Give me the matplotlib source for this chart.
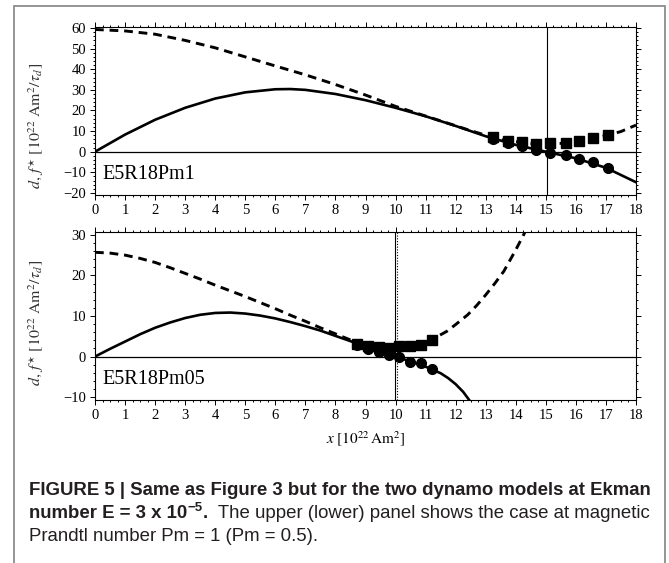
import matplotlib
matplotlib.use("Agg")
import matplotlib.pyplot as plt
from matplotlib.patches import Rectangle
from matplotlib.transforms import IdentityTransform
from matplotlib.ticker import MultipleLocator

# ---- upper panel (E5R18Pm1) ----
x_d1 = [0, 1, 2, 3, 4, 5, 6, 6.5, 7, 8, 9, 10, 11, 12, 13, 14, 15, 16, 17, 18]
d1 = [0, 8.3, 15.5, 21.3, 25.8, 28.8, 30.3, 30.4, 30.0, 28.0, 25.0, 21.3, 17.2, 12.5,
      7.5, 3.3, 0.0, -3.2, -7.8, -14.8]
x_f1 = [0, 1, 2, 3, 4, 5, 6, 7, 8, 9, 10, 11, 12, 12.5, 13, 13.25, 13.73, 14.2, 14.67,
        15.14, 15.66, 16.11, 16.58, 17.08, 17.5, 18]
f1 = [59.3, 58.6, 57.0, 54.0, 50.4, 46.0, 41.6, 37.3, 32.6, 27.5, 22.0, 17.3, 12.6, 10.2,
      8.0, 7.1, 5.0, 4.7, 3.7, 4.1, 4.0, 5.1, 6.5, 8.1, 9.8, 12.9]
x_pts1 = [13.25, 13.73, 14.2, 14.67, 15.14, 15.66, 16.11, 16.58, 17.08]
sq1 = [7.1, 5.0, 4.7, 3.7, 4.1, 4.0, 5.1, 6.5, 8.1]
ci1 = [6.0, 4.2, 2.7, 0.7, -0.6, -1.7, -3.7, -5.1, -7.8]
vline1 = 15.05

# ---- lower panel (E5R18Pm05) ----
x_d2 = [0, 0.5, 1, 1.5, 2, 2.5, 3, 3.5, 4, 4.5, 5, 5.5, 6, 6.5, 7, 7.5, 8, 8.5, 9, 9.5,
        10, 10.5, 11, 11.5, 11.75, 12, 12.25, 12.5]
d2 = [0, 1.9, 3.7, 5.5, 7.1, 8.4, 9.5, 10.3, 10.75, 10.85, 10.6, 10.1, 9.4, 8.5, 7.5,
      6.4, 5.1, 3.8, 2.5, 1.2, 0.0, -1.2, -2.5, -4.1, -5.3, -6.8, -8.7, -11.2]
x_f2 = [0, 0.5, 1, 1.5, 2, 2.5, 3, 3.5, 4, 4.5, 5, 5.5, 6, 6.5, 7, 7.5, 8, 8.73, 9.08,
        9.44, 9.79, 10.11, 10.49, 10.83, 11.21, 11.7, 12, 12.4, 12.7, 13, 13.3, 13.6, 14, 14.4]
f2 = [25.7, 25.5, 25.0, 24.2, 23.2, 21.9, 20.5, 19.1, 17.6, 16.2, 14.8, 13.3, 11.8, 10.2,
      8.7, 7.1, 5.6, 3.4, 2.7, 2.3, 2.1, 2.2, 2.5, 2.9, 4.2, 6.2, 7.9, 10.3, 12.6, 15.2,
      18.0, 21.0, 26.3, 32.0]
x_pts2 = [8.73, 9.08, 9.44, 9.79, 10.11, 10.49, 10.83, 11.21]
sq2 = [3.2, 2.6, 2.3, 2.1, 2.5, 2.6, 2.8, 4.2]
ci2 = [2.9, 1.85, 1.15, 0.5, -0.2, -1.45, -1.7, -3.1]
vline2 = 9.97
vline2_dot = 10.05

xticks = list(range(0, 19))

plt.rcParams['font.family'] = ['Liberation Serif', 'DejaVu Serif']
plt.rcParams['mathtext.fontset'] = 'stix'

W, H = 669, 563
fig = plt.figure(figsize=(W / 100, H / 100), dpi=100)

ylab = r'$d,\, f^{\star}\ [10^{22}\ \mathrm{Am}^2/\tau_d]$'


def panel(top_px, ylim, x_d, d, x_f, f, x_pts, sq, ci, name, lab_y):
    ax = fig.add_axes([95 / W, 1 - (top_px + 168) / H, 541 / W, 168 / H])
    ax.plot(x_f, f, color='black', lw=2.1, dashes=(3.0, 2.0), zorder=3)
    ax.plot(x_d, d, color='black', lw=1.9, zorder=3)
    ax.plot(x_pts, sq, 's', color='black', ms=6.5, zorder=4)
    ax.plot(x_pts, ci, 'o', color='black', ms=7.0, zorder=4)
    ax.axhline(0, color='black', lw=0.9, zorder=2)
    ax.set_xlim(0, 18)
    ax.set_ylim(*ylim)
    ax.set_xticks(xticks)
    ax.xaxis.set_minor_locator(MultipleLocator(0.25))
    ax.yaxis.set_major_locator(MultipleLocator(10))
    ax.yaxis.set_minor_locator(MultipleLocator(2))
    ax.tick_params(which='both', direction='out', top=True, right=True,
                   width=0.7, labelsize=10.5, pad=3)
    ax.tick_params(which='major', length=3.5)
    ax.tick_params(which='minor', length=1.6)
    for sp in ax.spines.values():
        sp.set_linewidth(0.8)
    ax.set_ylabel(ylab, fontsize=11.5, color='#333333')
    ax.yaxis.set_label_coords(-0.09, lab_y)
    ax.text(0.013, 0.12, name, transform=ax.transAxes, fontsize=14.5,
            ha='left', va='center')
    return ax


ax1 = panel(27, (-21, 60.5), x_d1, d1, x_f1, f1, x_pts1, sq1, ci1, 'E5R18Pm1', 0.41)
ax1.axvline(vline1, color='black', lw=0.8, zorder=2)

ax2 = panel(232, (-10.7, 30.7), x_d2, d2, x_f2, f2, x_pts2, sq2, ci2, 'E5R18Pm05', 0.46)
ax2.axvline(vline2, color='black', lw=0.8, zorder=2)
ax2.axvline(vline2_dot, color='black', lw=0.8, ls=(0, (1, 1.5)), zorder=2)
ax2.set_xlabel(r'$x\ [10^{22}\,\mathrm{Am}^2]$', fontsize=11, labelpad=5)

# outer frame
fig.add_artist(Rectangle((14, -20), 651, H - 6 + 20, transform=IdentityTransform(),
                         fill=False, edgecolor='#8c8c8c', lw=1.3, clip_on=False))

# caption
cap = dict(family=['Liberation Sans', 'DejaVu Sans'], color='#231f20')
rend = fig.canvas.get_renderer()


def runs(x0, y_from_top, pieces):
    x = x0
    for s, size, weight, dy in pieces:
        t = fig.text(x, H - y_from_top + dy, s, transform=IdentityTransform(),
                     fontsize=size, fontweight=weight, va='baseline', ha='left', **cap)
        x = t.get_window_extent(rend).x1


runs(29, 495, [("FIGURE 5 | Same as Figure 3 but for the two dynamo models at Ekman", 13.4, 'bold', 0)])
runs(29, 518, [("number E = 3 x 10", 13.4, 'bold', 0), ("\u22125", 9.5, 'bold', 7),
               (".", 13.4, 'bold', 0),
               ("  The upper (lower) panel shows the case at magnetic", 13.4, 'normal', 0)])
runs(29, 541, [("Prandtl number Pm = 1 (Pm = 0.5).", 13.4, 'normal', 0)])

fig.savefig("out.png", dpi=100)
